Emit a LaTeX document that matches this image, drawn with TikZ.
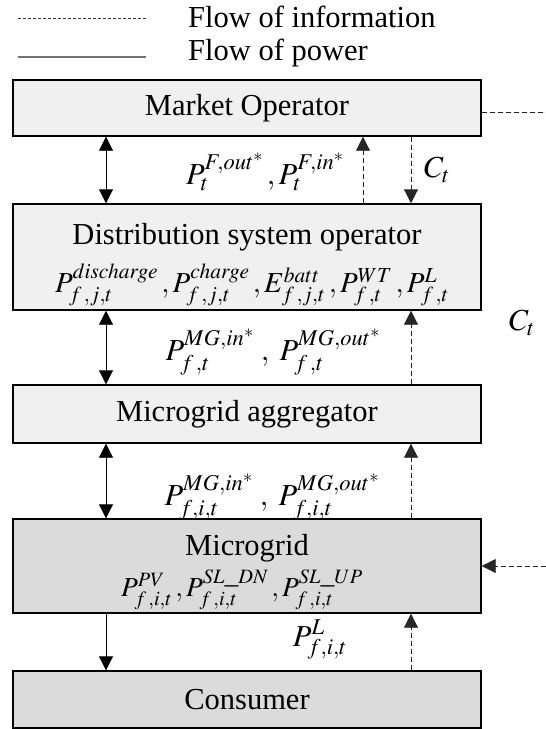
\documentclass[tikz,border=0pt]{standalone}
\usepackage{mathptmx}
\usepackage{fontspec}
\setmainfont{Liberation Serif}
\usetikzlibrary{arrows.meta}
\begin{document}
\begin{tikzpicture}[x=1pt,y=-1pt,font=\fontsize{30.5}{36}\selectfont]
\useasboundingbox (0,0) rectangle (546,729);
\tikzset{
  panel/.style={draw, line width=1.4pt, minimum width=468pt, inner sep=0pt},
  light/.style={panel, fill=black!6},
  dark/.style={panel, fill=black!14},
  txt/.style={inner sep=0pt},
  formula/.style={inner sep=0pt, font=\fontsize{29}{34}\selectfont},
  power/.style={line width=0.9pt,
    {Triangle[length=14pt,width=14pt]}-{Triangle[length=14pt,width=14pt]}},
  powerdown/.style={line width=0.9pt, -{Triangle[length=14pt,width=14pt]}},
  info/.style={line width=0.9pt, dash pattern=on 5pt off 3pt, draw=black!85},
  infoarrow/.style={info, -{Triangle[length=14pt,width=14pt]}},
}
% legend
\coordinate (l1a) at (18,18);
\coordinate (l1b) at (146,18);
\coordinate (l2a) at (18,57);
\coordinate (l2b) at (146,57);
\draw[line width=0.7pt, dash pattern=on 3pt off 2pt, draw=black!80] (l1a) -- (l1b);
\draw[line width=1.5pt, draw=black!55] (l2a) -- (l2b);
\node[txt, anchor=west] (lg1) at (188,17) {Flow of information};
\node[txt, anchor=west] (lg2) at (188,53) {Flow of power};

% boxes
\node[light, minimum height=56pt] (mo) at (247,108) {};
\node[light, minimum height=106pt] (dso) at (247,257) {};
\node[light, minimum height=58pt] (ma) at (247,414) {};
\node[dark, minimum height=94pt] (mg) at (247,566) {};
\node[dark, minimum height=57pt] (con) at (247,699.5) {};

% box texts
\node[txt] (tmo) at (247,108) {Market Operator};
\node[txt] (tdso) at (247,237) {Distribution system operator};
\node[formula] (fdso) at (252,285) {$P_{f\,,j,t}^{discharge}\,,P_{f\,,j,t}^{charge}\,,E_{f\,,j,t}^{batt}\,,P_{f\,,t}^{WT}\,,P_{f\,,t}^{L}$};
\node[txt] (tma) at (247,414) {Microgrid aggregator};
\node[txt] (tmg) at (247,548) {Microgrid};
\node[formula, font=\fontsize{27.5}{32}\selectfont] (fmg) at (242,590) {$P_{f\,,i,t}^{PV}\,,P_{f\,,i,t}^{SL\_DN}\,,P_{f\,,i,t}^{SL\_UP}$};
\node[txt] (tcon) at (247,699.5) {Consumer};

% connector columns
\coordinate (px) at (106,0);
\coordinate (ia) at (363,0);
\coordinate (ib) at (411,0);

\draw[power] (mo.south -| px) -- (dso.north -| px);
\draw[infoarrow] (dso.north -| ia) -- (mo.south -| ia);
\draw[infoarrow] (mo.south -| ib) -- (dso.north -| ib);
\draw[power] (dso.south -| px) -- (ma.north -| px);
\draw[infoarrow] (ma.north -| ib) -- (dso.south -| ib);
\draw[power] (ma.south -| px) -- (mg.north -| px);
\draw[infoarrow] (mg.north -| ib) -- (ma.south -| ib);
\draw[powerdown] (mg.south -| px) -- (con.north -| px);
\draw[infoarrow] (con.north -| ib) -- (mg.south -| ib);

% price signal on the right
\coordinate (re1) at (546,112);
\coordinate (re2) at (546,566);
\draw[info] (mo.east |- re1) -- (re1);
\draw[infoarrow] (re2) -- (mg.east |- re2);

% connector labels
\node[txt] (lf) at (265,172) {$P_t^{F,out^{*}}\,,P_t^{F,in^{*}}$};
\node[txt] (ct1) at (437,170) {$C_t$};
\node[txt] (ct2) at (522,323) {$C_t$};
\node[txt] (lmg1) at (273,352) {$P_{f\,,t}^{MG,in^{*}}\;,\;P_{f\,,t}^{MG,out^{*}}$};
\node[txt] (lmg2) at (272,497) {$P_{f,i,t}^{MG,in^{*}}\;,\;P_{f,i,t}^{MG,out^{*}}$};
\node[txt] (lpl) at (320,640) {$P_{f,i,t}^{L}$};
\end{tikzpicture}
\end{document}
